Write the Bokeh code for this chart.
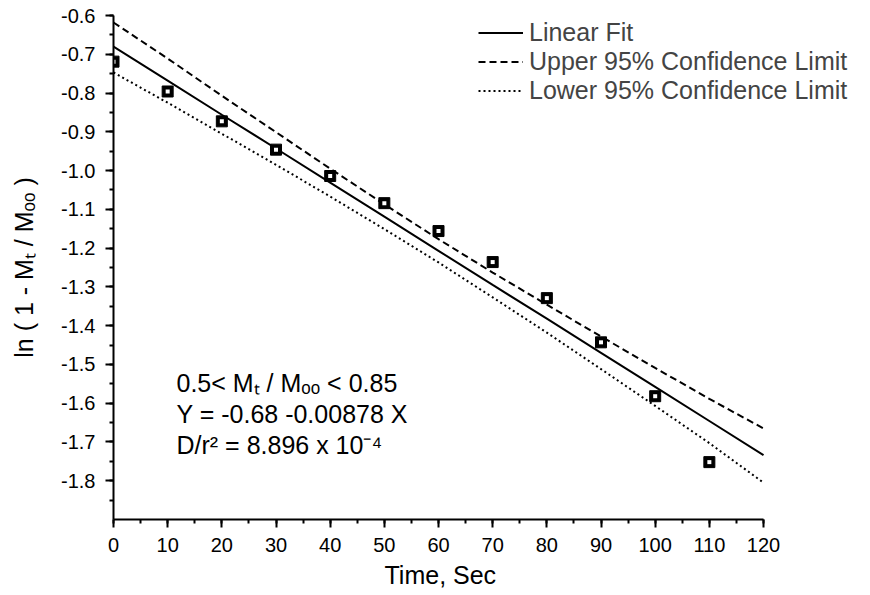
from bokeh.plotting import figure
from bokeh.models import Range1d, SingleIntervalTicker, PrintfTickFormatter, Legend, LegendItem, Label, Title
from bokeh.embed import file_html
from bokeh.resources import INLINE

# ---- data ----
time_pts = [0, 10, 20, 30, 40, 50, 60, 70, 80, 90, 100, 110]
ln_pts = [-0.719, -0.796, -0.873, -0.946, -1.014, -1.084, -1.156, -1.236, -1.329, -1.443, -1.582, -1.752]

line_x = [0, 10, 20, 30, 40, 50, 60, 70, 80, 90, 100, 110, 120]
fit_y = [-0.680, -0.768, -0.856, -0.943, -1.031, -1.119, -1.207, -1.295, -1.382, -1.470, -1.558, -1.646, -1.734]
upper_y = [-0.618, -0.711, -0.807, -0.901, -0.995, -1.087, -1.177, -1.263, -1.346, -1.428, -1.509, -1.589, -1.665]
lower_y = [-0.747, -0.825, -0.905, -0.985, -1.067, -1.151, -1.237, -1.327, -1.418, -1.512, -1.607, -1.703, -1.805]

legend_labels = ["Linear Fit", "Upper 95% Confidence Limit", "Lower 95% Confidence Limit"]
annot_lines = ["0.5< M\u209c / M\u2092\u2092 < 0.85", "Y = -0.68 -0.00878 X", "D/r\u00b2 = 8.896 x 10\u207b\u2074"]
x_title = "Time, Sec"
y_title = "ln ( 1 - M\u209c / M\u2092\u2092 )"

X_AXIS_END = 120
FONT = "Liberation Sans"

# frame runs to the right edge of the canvas so the legend is not clipped;
# the x axis itself is bounded to 0..120
p = figure(width=870, height=595, output_backend="svg", toolbar_location=None,
           x_range=Range1d(0, 139.75), y_range=Range1d(-1.9, -0.6),
           min_border_left=113, min_border_right=0, min_border_top=15, min_border_bottom=76)
p.outline_line_color = None
p.xgrid.visible = False
p.ygrid.visible = False
p.background_fill_color = "white"
p.border_fill_color = "white"

for ax in (p.xaxis[0], p.yaxis[0]):
    ax.axis_line_width = 2
    ax.axis_line_color = "black"
    ax.major_tick_line_width = 2
    ax.minor_tick_line_width = 2
    ax.major_tick_out = 8
    ax.major_tick_in = 0
    ax.minor_tick_out = 4
    ax.minor_tick_in = 0
    ax.major_label_text_font = FONT
    ax.major_label_text_font_size = "20px"
    ax.major_label_text_color = "black"
    ax.axis_label_text_font = FONT
    ax.axis_label_text_font_size = "25px"
    ax.axis_label_text_font_style = "normal"
    ax.axis_label_text_color = "black"

p.xaxis[0].bounds = (0, X_AXIS_END)
p.xaxis[0].ticker = SingleIntervalTicker(interval=10, num_minor_ticks=2)
p.yaxis[0].ticker = SingleIntervalTicker(interval=0.1, num_minor_ticks=2)
p.yaxis[0].formatter = PrintfTickFormatter(format="%.1f")
p.yaxis[0].axis_label = y_title
p.xaxis[0].major_label_standoff = 10
p.yaxis[0].major_label_standoff = 10
p.yaxis[0].axis_label_standoff = 20

# x-axis title centred under the 0..120 axis (not under the wider frame)
p.add_layout(Title(text=x_title, align="left", offset=271, standoff=9,
                   text_font=FONT, text_font_size="25px", text_font_style="normal",
                   text_color="black"), "below")

r_fit = p.line(line_x, fit_y, line_color="black", line_width=2)
r_up = p.line(line_x, upper_y, line_color="black", line_width=2, line_dash="7 4")
r_lo = p.line(line_x, lower_y, line_color="black", line_width=2, line_dash="2 3")

p.scatter(time_pts, ln_pts, marker="square", size=11, fill_color="black", line_color="black")
p.scatter(time_pts, ln_pts, marker="square", size=4, fill_color="white", line_color=None)

legend = Legend(items=[LegendItem(label=legend_labels[0], renderers=[r_fit]),
                       LegendItem(label=legend_labels[1], renderers=[r_up]),
                       LegendItem(label=legend_labels[2], renderers=[r_lo])],
                location=(365, 414), orientation="vertical",
                glyph_width=45, glyph_height=29, label_height=29, spacing=0, padding=0, margin=0,
                label_standoff=6, label_text_font=FONT, label_text_font_size="25px",
                border_line_color=None, background_fill_alpha=0)
p.add_layout(legend, "center")

for i, txt in enumerate(annot_lines):
    p.add_layout(Label(x=63, y=137 - 31 * i, x_units="screen", y_units="screen", text=txt,
                       text_font=FONT, text_font_size="25px", text_baseline="middle",
                       text_color="black"))

open("out.html", "w").write(file_html(p, INLINE))
